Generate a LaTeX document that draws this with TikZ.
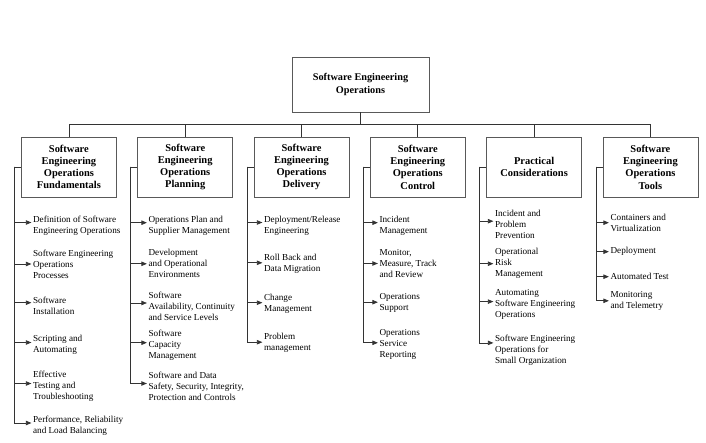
\documentclass[tikz,border=0pt]{standalone}
\usepackage{fontspec}
\setmainfont{Liberation Serif}
\usepackage{xcolor}
\usepackage{tikz}
\usetikzlibrary{positioning, arrows.meta}

\begin{document}
\begin{tikzpicture}[
  x=1bp, y=-1bp,
  node distance=20.5bp,
  topbox/.style={rectangle, draw=black!65, line width=0.8bp, minimum width=137bp, minimum height=55bp, align=center, text=black, font=\fontsize{10.3}{13}\selectfont\bfseries},
  catbox/.style={rectangle, draw=black!65, line width=0.8bp, minimum width=95bp, minimum height=60bp, inner sep=1bp, align=center, text=black, font=\fontsize{10.5}{12.3}\selectfont\bfseries},
  item/.style={anchor=west, align=left, inner xsep=1.5bp, inner ysep=1bp, text=black, font=\fontsize{9.2}{11}\selectfont},
  line/.style={draw=black!80, line width=0.75bp},
  arrow/.style={line, -{Triangle[length=5.5bp, width=4.4bp]}}
]
\useasboundingbox (0,0) rectangle (706,443);

%% Top
\node[topbox] (seo) at (360.5,84.5) {Software Engineering\\Operations};

%% Knowledge areas
\node[catbox] (fund) at (68.9,167) {Software\\Engineering\\Operations\\Fundamentals};
\node[catbox, right=of fund] (plan) {Software\\Engineering\\Operations\\Planning};
\node[catbox, right=of plan] (deliv) {Software\\Engineering\\Operations\\Delivery};
\node[catbox, right=of deliv] (ctrl) {Software\\Engineering\\Operations\\Control};
\node[catbox, right=of ctrl] (pract) {Practical\\Considerations};
\node[catbox, right=of pract] (tools) {Software\\Engineering\\Operations\\Tools};

%% Fundamentals topics
\node[item] (f1) at (31.4,225.5) {Definition of Software\\Engineering Operations};
\node[item] (f2) at (31.4,264) {Software Engineering\\Operations\\Processes};
\node[item] (f3) at (31.4,305.7) {Software\\Installation};
\node[item] (f4) at (31.4,344.5) {Scripting and\\Automating};
\node[item] (f5) at (31.4,386.5) {Effective\\Testing and\\Troubleshooting};
\node[item] (f6) at (31.4,426) {Performance, Reliability\\and Load Balancing};

%% Planning topics
\node[item] (p1) at (146.9,225.7) {Operations Plan and\\Supplier Management};
\node[item] (p2) at (146.9,263.8) {Development\\and Operational\\Environments};
\node[item] (p3) at (146.9,306) {Software\\Availability, Continuity\\and Service Levels};
\node[item] (p4) at (146.9,345.7) {Software\\Capacity\\Management};
\node[item] (p5) at (146.9,386.5) {Software and Data\\Safety, Security, Integrity,\\Protection and Controls};

%% Delivery topics
\node[item] (d1) at (262.4,225.5) {Deployment/Release\\Engineering};
\node[item] (d2) at (262.4,263.8) {Roll Back and\\Data Migration};
\node[item] (d3) at (262.4,303.7) {Change\\Management};
\node[item] (d4) at (262.4,343.2) {Problem\\management};

%% Control topics
\node[item] (c1) at (377.9,225.7) {Incident\\Management};
\node[item] (c2) at (377.9,263.5) {Monitor,\\Measure, Track\\and Review};
\node[item] (c3) at (377.9,303.2) {Operations\\Support};
\node[item] (c4) at (377.9,344.8) {Operations\\Service\\Reporting};

%% Practical topics
\node[item] (r1) at (493.4,224.2) {Incident and\\Problem\\Prevention};
\node[item] (r2) at (493.4,263.7) {Operational\\Risk\\Management};
\node[item] (r3) at (493.4,304.6) {Automating\\Software Engineering\\Operations};
\node[item] (r4) at (493.4,349.9) {Software Engineering\\Operations for\\Small Organization};

%% Tools topics
\node[item] (t1) at (608.9,222.7) {Containers and\\Virtualization};
\node[item] (t2) at (608.9,251.7) {Deployment};
\node[item] (t3) at (608.9,276.7) {Automated Test};
\node[item] (t4) at (608.9,300.8) {Monitoring\\and Telemetry};

%% Tree connections
\draw[line] (seo.south) -- ++(0,12) coordinate (bus);
\draw[line] (bus) -| (fund.north);
\draw[line] (bus) -| (plan.north);
\draw[line] (bus) -| (deliv.north);
\draw[line] (bus) -| (ctrl.north);
\draw[line] (bus) -| (pract.north);
\draw[line] (bus) -| (tools.north);

%% Topic arrows
\draw[line] (fund.west) -- ++(-6.5,0) coordinate (fundtr);
\draw[arrow] (fundtr) |- ([yshift=3bp]f1.west);
\draw[arrow] (fundtr) |- (f2.west);
\draw[arrow] (fundtr) |- ([yshift=3bp]f3.west);
\draw[arrow] (fundtr) |- ([yshift=2bp]f4.west);
\draw[arrow] (fundtr) |- ([yshift=3bp]f5.west);
\draw[arrow] (fundtr) |- ([yshift=3bp]f6.west);

\draw[line] (plan.west) -- ++(-6.5,0) coordinate (plantr);
\draw[arrow] (plantr) |- ([yshift=3bp]p1.west);
\draw[arrow] (plantr) |- (p2.west);
\draw[arrow] (plantr) |- ([yshift=3bp]p3.west);
\draw[arrow] (plantr) |- ([yshift=3bp]p4.west);
\draw[arrow] (plantr) |- ([yshift=3bp]p5.west);

\draw[line] (deliv.west) -- ++(-6.5,0) coordinate (delivtr);
\draw[arrow] (delivtr) |- ([yshift=3bp]d1.west);
\draw[arrow] (delivtr) |- ([yshift=1bp]d2.west);
\draw[arrow] (delivtr) |- ([yshift=1bp]d3.west);
\draw[arrow] (delivtr) |- ([yshift=1bp]d4.west);

\draw[line] (ctrl.west) -- ++(-6.5,0) coordinate (ctrltr);
\draw[arrow] (ctrltr) |- ([yshift=3bp]c1.west);
\draw[arrow] (ctrltr) |- (c2.west);
\draw[arrow] (ctrltr) |- ([yshift=1bp]c3.west);
\draw[arrow] (ctrltr) |- ([yshift=2bp]c4.west);

\draw[line] (pract.west) -- ++(-6.5,0) coordinate (practtr);
\draw[arrow] (practtr) |- ([yshift=3bp]r1.west);
\draw[arrow] (practtr) |- (r2.west);
\draw[arrow] (practtr) |- ([yshift=3bp]r3.west);
\draw[arrow] (practtr) |- ([yshift=7bp]r4.west);

\draw[line] (tools.west) -- ++(-6.5,0) coordinate (toolstr);
\draw[arrow] (toolstr) |- (t1.west);
\draw[arrow] (toolstr) |- (t2.west);
\draw[arrow] (toolstr) |- (t3.west);
\draw[arrow] (toolstr) |- (t4.west);

\end{tikzpicture}
\end{document}
